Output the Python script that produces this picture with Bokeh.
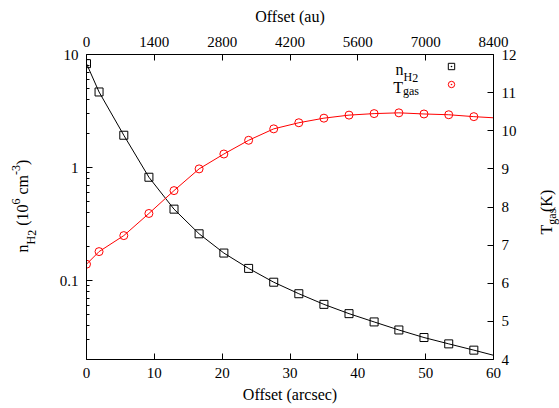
import math
from bokeh.plotting import figure
from bokeh.layouts import row
from bokeh.models import (Range1d, LinearAxis, LinearScale, FixedTicker, Label,
                          Legend, LegendItem)
from bokeh.embed import file_html
from bokeh.resources import INLINE

# ---------------- data ----------------
offset_arcsec = [0, 1.85, 5.5, 9.2, 12.9, 16.6, 20.25, 23.9, 27.6, 31.3,
                 35.0, 38.7, 42.4, 46.05, 49.75, 53.4, 57.1]
n_h2 = [8.3, 4.66, 1.93, 0.82, 0.428, 0.259, 0.175, 0.128, 0.0966, 0.0764,
        0.0615, 0.0509, 0.0430, 0.0365, 0.0313, 0.0275, 0.0242]
t_gas = [6.50, 6.83, 7.25, 7.83, 8.43, 9.00, 9.39, 9.75, 10.05, 10.21,
         10.33, 10.41, 10.45, 10.47, 10.44, 10.42, 10.37]
# model curves continue to the edge of the plot
curve_end_offset = [60]
n_h2_curve_end = [0.0218]
t_gas_curve_end = [10.34]

x_ticks = [0, 10, 20, 30, 40, 50, 60]
au_ticks = [0, 1400, 2800, 4200, 5600, 7000, 8400]
n_major_ticks = [0.1, 1, 10]
n_minor_ticks = [0.02, 0.03, 0.04, 0.05, 0.06, 0.07, 0.08, 0.09,
                 0.2, 0.3, 0.4, 0.5, 0.6, 0.7, 0.8, 0.9,
                 2, 3, 4, 5, 6, 7, 8, 9]
n_tick_labels = {0.1: "0.1", 1: "1", 10: "10"}
t_ticks = [4, 5, 6, 7, 8, 9, 10, 11, 12]

FONT = "Liberation Serif"
RED = "#ff0000"
W, H = 559, 408

# page layout: [left label strip | main plot | right label strip]
LEFT_W, RIGHT_W = 40, 29
FL, FT, FW, FH = 86, 54, 407, 305          # frame position on the page
FB = FT + FH
MAIN_W = W - LEFT_W - RIGHT_W

p = figure(frame_width=FW, frame_height=FH, output_backend="svg",
           toolbar_location=None, x_range=Range1d(0, 60),
           y_range=Range1d(0.02, 10), y_axis_type="log",
           min_border_left=FL - LEFT_W,
           min_border_right=MAIN_W - (FL - LEFT_W) - FW,
           min_border_top=FT, min_border_bottom=H - FB)
p.xgrid.visible = False
p.ygrid.visible = False
p.outline_line_color = None
p.background_fill_color = "white"
p.border_fill_color = "white"

p.extra_x_ranges = {"au": Range1d(0, 8400)}
p.extra_y_ranges = {"T": Range1d(4, 12)}
p.extra_y_scales = {"T": LinearScale()}
p.extra_x_scales = {"au": LinearScale()}


def style(ax):
    ax.axis_line_color = "black"
    ax.axis_line_width = 1
    ax.major_tick_line_color = "black"
    ax.major_tick_in = 6
    ax.major_tick_out = 0
    ax.minor_tick_line_color = "black"
    ax.minor_tick_in = 3
    ax.minor_tick_out = 0
    ax.major_label_text_font = FONT
    ax.major_label_text_font_size = "15px"
    ax.major_label_text_color = "black"
    ax.major_label_standoff = 8
    ax.axis_label_text_font = FONT
    ax.axis_label_text_font_size = "16px"
    ax.axis_label_text_font_style = "normal"
    ax.axis_label_text_color = "black"


xa = p.xaxis[0]
xa.ticker = FixedTicker(ticks=x_ticks, minor_ticks=[])
style(xa)
xa.axis_label = "Offset (arcsec)"
xa.axis_label_standoff = 5

ya = p.yaxis[0]
ya.ticker = FixedTicker(ticks=n_major_ticks, minor_ticks=n_minor_ticks)
ya.major_label_overrides = n_tick_labels
style(ya)

ra = LinearAxis(y_range_name="T", ticker=FixedTicker(ticks=t_ticks, minor_ticks=[]))
style(ra)
p.add_layout(ra, "right")

ta = LinearAxis(x_range_name="au", ticker=FixedTicker(ticks=au_ticks, minor_ticks=[]))
style(ta)
ta.axis_label = "Offset (au)"
ta.axis_label_standoff = 9
p.add_layout(ta, "above")

# ---------------- data renderers ----------------
p.line(offset_arcsec + curve_end_offset, n_h2 + n_h2_curve_end,
       line_color="black", line_width=1)
p.scatter(offset_arcsec, n_h2, marker="square", size=8, fill_color=None,
          line_color="black", line_width=1)
p.line(offset_arcsec + curve_end_offset, t_gas + t_gas_curve_end,
       line_color=RED, line_width=1, y_range_name="T")
p.scatter(offset_arcsec, t_gas, marker="circle", size=8, fill_color=None,
          line_color=RED, line_width=1, y_range_name="T")

# legend keys: same data, zero size in the plot, drawn only in the legend
lg_sq = p.scatter(offset_arcsec, n_h2, marker="square_dot", size=0,
                  fill_color=None, line_color="black", line_width=1)
lg_ci = p.scatter(offset_arcsec, t_gas, marker="circle_dot", size=0,
                  fill_color=None, line_color=RED, line_width=1,
                  y_range_name="T")
legend = Legend(items=[LegendItem(label=" ", renderers=[lg_sq]),
                       LegendItem(label=" ", renderers=[lg_ci])],
                location=(443 - FL, FB - 93), padding=0, margin=0, spacing=0,
                glyph_width=16, glyph_height=18, label_height=18, label_width=0,
                label_standoff=0, border_line_color=None,
                background_fill_alpha=0, label_text_font_size="1px")
p.add_layout(legend)


def put(fig, x0, txt, px, py, size, angle=0.0, align="left"):
    """Place a text piece with its baseline start at page position (px, py)
    inside figure `fig` whose frame starts at page x0 and ends at page y FB."""
    if angle:
        # rotated texts come out shifted toward the glyph bottom by about a
        # third of the font size; compensate so the baseline lands at px
        px = px - 0.34 * size
    fig.add_layout(Label(x=px - x0, y=FB - py, x_units="screen", y_units="screen",
                         text=txt, angle=angle, text_font=FONT,
                         text_font_size=f"{size}px", text_color="black",
                         text_align=align, text_baseline="alphabetic"))


# legend texts (inside the main frame)
put(p, FL, "n", 395, 69, 16)
put(p, FL, "H", 403, 76.7, 12)
put(p, FL, "2", 411.7, 77.5, 12)
put(p, FL, "T", 392.7, 86.7, 16)
put(p, FL, "gas", 402.5, 90.7, 12)


def strip(width):
    # same vertical frame as the main plot, no side borders
    f = figure(frame_width=width, frame_height=FH, output_backend="svg",
               toolbar_location=None, x_range=Range1d(0, 1),
               y_range=Range1d(0, 1), title=None,
               x_axis_location=None, y_axis_location=None,
               min_border_left=0, min_border_right=0,
               min_border_top=FT, min_border_bottom=H - FB)
    f.grid.visible = False
    f.outline_line_color = None
    f.background_fill_color = "white"
    f.border_fill_color = "white"
    return f


up = math.pi / 2
# left axis label: n_{H_2} (10^6 cm^-3)
lf = strip(LEFT_W)
for txt, px, py, size in [("n", 27, 252, 16), ("H", 34.7, 244, 12),
                          ("2", 36, 235.3, 12), ("(10", 27, 225.3, 16),
                          ("6", 20, 204, 12), ("cm", 27, 194, 16),
                          ("-3", 20, 174.5, 12), (")", 27, 164.5, 16)]:
    put(lf, 0, txt, px, py, size, up)

# right axis label: T_gas (K)
rx0 = W - RIGHT_W
rf = strip(RIGHT_W)
for txt, px, py, size in [("T", 551.5, 234, 16), ("gas", 555.5, 224.2, 12),
                          ("(K)", 551.5, 211.5, 16)]:
    put(rf, rx0, txt, px, py, size, up)

layout = row(lf, p, rf, spacing=0)
open("out.html", "w").write(file_html(layout, INLINE))
